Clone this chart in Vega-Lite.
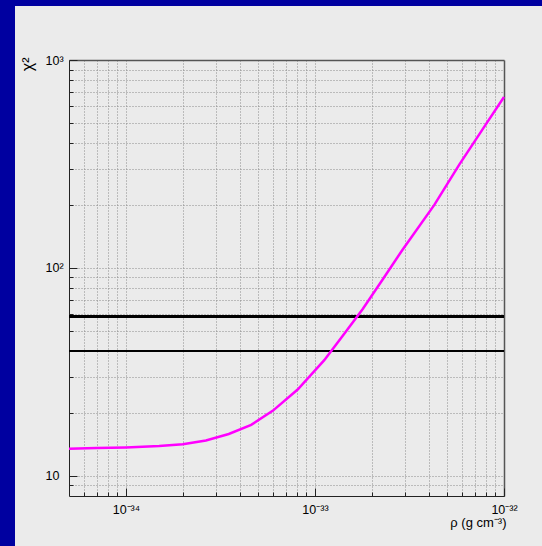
{
  "$schema": "https://vega.github.io/schema/vega-lite/v6.json",
  "width": 435,
  "height": 436,
  "autosize": "none",
  "padding": {"left": 69, "top": 60, "right": 38, "bottom": 50},
  "background": "#0000a0",
  "config": {
    "view": {"fill": "#ebebeb", "stroke": "#ebebeb", "strokeWidth": 108},
    "axis": {"labelFont": "Liberation Sans", "titleFont": "Liberation Sans", "labelColor": "#000", "titleColor": "#000", "titleFontWeight": "normal"}
  },
  "layer": [
    {
      "data": {"values": [{"level": "upper", "chi2": 58.4}]},
      "mark": {"type": "rule", "color": "#000", "strokeWidth": 3},
      "encoding": {"y": {"field": "chi2", "type": "quantitative"}}
    },
    {
      "data": {"values": [{"level": "lower", "chi2": 39.8}]},
      "mark": {"type": "rule", "color": "#000", "strokeWidth": 2},
      "encoding": {"y": {"field": "chi2", "type": "quantitative"}}
    },
    {
      "data": {"values": [
        {"rho": 5e-35, "chi2": 13.5},
        {"rho": 7e-35, "chi2": 13.6},
        {"rho": 1e-34, "chi2": 13.7},
        {"rho": 1.5e-34, "chi2": 13.9},
        {"rho": 2e-34, "chi2": 14.2},
        {"rho": 2.65e-34, "chi2": 14.8},
        {"rho": 3.5e-34, "chi2": 15.9},
        {"rho": 4.6e-34, "chi2": 17.6},
        {"rho": 6e-34, "chi2": 20.6},
        {"rho": 8.1e-34, "chi2": 26.0},
        {"rho": 1.12e-33, "chi2": 36.0},
        {"rho": 1.4e-33, "chi2": 47.0},
        {"rho": 1.79e-33, "chi2": 63.5},
        {"rho": 2.3e-33, "chi2": 89},
        {"rho": 2.9e-33, "chi2": 122},
        {"rho": 4.28e-33, "chi2": 201},
        {"rho": 5.8e-33, "chi2": 314},
        {"rho": 8.0e-33, "chi2": 489},
        {"rho": 1e-32, "chi2": 664}
      ]},
      "mark": {"type": "line", "color": "#ff00ff", "strokeWidth": 2.5},
      "encoding": {
        "x": {
          "field": "rho", "type": "quantitative",
          "scale": {"type": "log", "domain": [5e-35, 1e-32], "nice": false, "zero": false},
          "axis": {
            "title": "ρ (g cm⁻³)",
            "values": [6e-35, 7e-35, 8e-35, 9e-35, 1e-34, 2e-34, 3e-34, 4e-34, 5e-34, 6e-34, 7e-34, 8e-34, 9e-34, 1e-33, 2e-33, 3e-33, 4e-33, 5e-33, 6e-33, 7e-33, 8e-33, 9e-33, 1e-32],
            "grid": true,
            "gridColor": {"condition": {"test": "datum.value > 9.9e-33", "value": "#555555"}, "value": "#8a8a8a"},
            "gridDash": {"condition": {"test": "datum.value > 9.9e-33", "value": []}, "value": [1, 2]},
            "gridWidth": {"condition": {"test": "datum.value > 9.9e-33", "value": 1.5}, "value": 1},
            "tickSize": {"condition": {"test": "abs(log(datum.value)/LN10 - round(log(datum.value)/LN10)) < 0.001", "value": -8}, "value": -4},
            "tickColor": "#222222",
            "domainColor": "#222222",
            "labelExpr": "abs(log(datum.value)/LN10 - round(log(datum.value)/LN10)) < 0.001 ? (round(log(datum.value)/LN10) == -34 ? '10⁻³⁴' : round(log(datum.value)/LN10) == -33 ? '10⁻³³' : '10⁻³²') : ''",
            "labelFontSize": 12.5,
            "labelPadding": 15,
            "labelFlush": false,
            "labelOverlap": false,
            "labelAlign": "center",
            "labelBaseline": "top",
            "titleFontSize": 13,
            "titleAnchor": "end",
            "titleAlign": "right",
            "titleBaseline": "alphabetic",
            "titleX": 437,
            "titleY": 30
          }
        },
        "y": {
          "field": "chi2", "type": "quantitative",
          "scale": {"type": "log", "domain": [8, 1000], "nice": false, "zero": false},
          "axis": {
            "title": "χ²",
            "values": [9, 10, 20, 30, 40, 50, 60, 70, 80, 90, 100, 200, 300, 400, 500, 600, 700, 800, 900, 1000],
            "grid": true,
            "gridColor": {"condition": {"test": "datum.value > 999", "value": "#555555"}, "value": "#8a8a8a"},
            "gridDash": {"condition": {"test": "datum.value > 999", "value": []}, "value": [1, 2]},
            "gridWidth": {"condition": {"test": "datum.value > 999", "value": 1.5}, "value": 1},
            "tickSize": {"condition": {"test": "datum.value == 10 || datum.value == 100 || datum.value == 1000", "value": -8}, "value": -4},
            "tickColor": "#222222",
            "domainColor": "#222222",
            "labelExpr": "datum.value == 10 ? '10' : datum.value == 100 ? '10²' : datum.value == 1000 ? '10³' : ''",
            "labelFontSize": 12.5,
            "labelPadding": 32,
            "labelAlign": "left",
            "labelBaseline": "middle",
            "labelOverlap": false,
            "labelFlush": false,
            "titleFontSize": 16,
            "titleAngle": 270,
            "titleAlign": "right",
            "titleBaseline": "middle",
            "titleX": -42,
            "titleY": -3
          }
        }
      }
    }
  ]
}
